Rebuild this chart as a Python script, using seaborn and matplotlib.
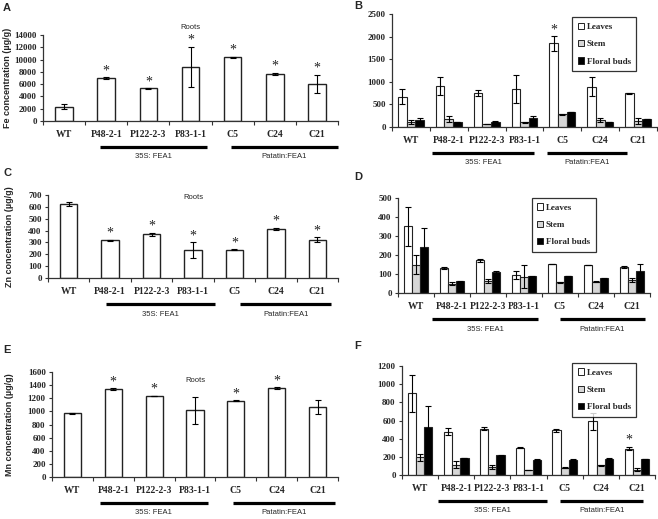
import numpy as np
import pandas as pd
import matplotlib
matplotlib.use('Agg')
import matplotlib.pyplot as plt
import matplotlib.transforms as mtransforms
from matplotlib.patches import Patch
import seaborn as sns

# plant lines and tissues
lines = ['WT', 'P48-2-1', 'P122-2-3', 'P83-1-1', 'C5', 'C24', 'C21']
tissues = ['Leaves', 'Stem', 'Floral buds']

# Fe roots (panel A)
fe_root = [2300, 7000, 5300, 8800, 10400, 7700, 6000]
fe_root_err = [400, 100, 40, 3300, 80, 150, 1500]
fe_root_sig = [0, 1, 1, 1, 1, 1, 1]

# Fe shoots (panel B)
fe_leaves = [670, 910, 750, 840, 1850, 890, 750]
fe_leaves_err = [160, 200, 60, 320, 160, 210, 10]
fe_stem = [110, 170, 70, 100, 280, 150, 130]
fe_stem_err = [50, 70, 5, 10, 5, 50, 70]
fe_buds = [150, 110, 120, 210, 330, 110, 180]
fe_buds_err = [50, 5, 5, 40, 5, 5, 5]
fe_leaves_sig = [0, 0, 0, 0, 1, 0, 0]

# Zn roots (panel C)
zn_root = [625, 318, 368, 237, 238, 415, 322]
zn_root_err = [15, 5, 15, 65, 5, 8, 20]
zn_root_sig = [0, 1, 1, 1, 1, 1, 1]

# Zn shoots (panel D)
zn_leaves = [352, 130, 173, 95, 153, 148, 137]
zn_leaves_err = [102, 6, 8, 22, 2, 2, 5]
zn_stem = [148, 50, 65, 85, 57, 60, 68]
zn_stem_err = [50, 8, 10, 60, 2, 4, 12]
zn_buds = [242, 62, 108, 87, 90, 78, 117]
zn_buds_err = [102, 2, 8, 2, 2, 2, 37]

# Mn roots (panel E)
mn_root = [970, 1340, 1235, 1015, 1165, 1355, 1070]
mn_root_err = [10, 10, 5, 200, 5, 15, 110]
mn_root_sig = [0, 1, 1, 0, 1, 1, 0]

# Mn shoots (panel F)
mn_leaves = [900, 475, 510, 300, 490, 590, 290]
mn_leaves_err = [205, 40, 20, 3, 20, 90, 20]
mn_stem = [195, 115, 85, 55, 80, 105, 60]
mn_stem_err = [40, 40, 20, 2, 3, 5, 15]
mn_buds = [530, 185, 215, 170, 170, 180, 175]
mn_buds_err = [225, 3, 3, 3, 3, 3, 3]
mn_leaves_sig = [0, 0, 0, 0, 0, 0, 1]

groups = ['35S: FEA1', 'Patatin:FEA1']
tissue_colors = ['white', '#d6d6d6', 'black']

SERIF = 'Liberation Serif'
SANS = 'Liberation Sans'

sns.set_style('ticks')
plt.rcParams['font.family'] = [SANS, 'DejaVu Sans']

fig = plt.figure(figsize=(6.58, 5.19), dpi=100)
W, H = 658, 519


def px_axes(left, top, right, bottom):
    return fig.add_axes([left / W, 1 - bottom / H, (right - left) / W, (bottom - top) / H])


def style_axis(ax, ymax, step, spans):
    ax.set_xlim(-0.5, 6.5)
    ax.set_ylim(0, ymax)
    ax.set_yticks(np.arange(0, ymax + 1, step))
    ax.set_xticks(range(len(lines)))
    ax.set_xticklabels(lines)
    ax.set_xticks(np.arange(-0.5, 7, 1), minor=True)
    ax.set_xlabel('')
    ax.set_ylabel('')
    for s in ['top', 'right']:
        ax.spines[s].set_visible(False)
    for s in ['left', 'bottom']:
        ax.spines[s].set_linewidth(0.9)
        ax.spines[s].set_color('#333333')
    ax.tick_params(axis='x', which='major', length=0, pad=6.5)
    ax.tick_params(axis='x', which='minor', length=3, width=0.8, color='#333333', direction='out')
    ax.tick_params(axis='y', length=2.5, width=0.8, color='#333333', direction='out', pad=2)
    for t in ax.get_xticklabels():
        t.set_fontfamily(SERIF)
        t.set_fontweight('bold')
        t.set_fontsize(7)
    for t in ax.get_yticklabels():
        t.set_fontfamily(SERIF)
        t.set_fontweight('bold')
        t.set_fontsize(6.5)
    # group underlines
    hpx = ax.get_position().height * H
    trans = mtransforms.blended_transform_factory(ax.transData, ax.transAxes)
    for (x0, x1), name in zip(spans, groups):
        ax.plot([x0, x1], [-26 / hpx, -26 / hpx], color='black', lw=2.3,
                transform=trans, clip_on=False, solid_capstyle='butt')
        ax.text((x0 + x1) / 2, -36 / hpx, name, transform=trans, ha='center',
                va='center', fontsize=5.5, family=SANS)


def add_errors(ax, xs, vals, errs):
    ax.errorbar(xs, vals, yerr=errs, fmt='none', ecolor='black', elinewidth=0.8,
                capsize=2.2, capthick=0.8, zorder=3)


def add_stars(ax, xs, vals, errs, sig):
    for x, v, e, s in zip(xs, vals, errs, sig):
        if s:
            ax.text(x, v + e, '*', ha='center', va='bottom', fontsize=10,
                    family=SERIF, color='#222222')


def roots_panel(box, vals, errs, sig, ymax, step, ylabel, spans, roots_y, lab_x):
    ax = px_axes(*box)
    df = pd.DataFrame({'line': lines, 'value': vals})
    sns.barplot(data=df, x='line', y='value', color='white', saturation=1,
                edgecolor='#222222', linewidth=1.0, width=0.42, errorbar=None, ax=ax)
    xs = [p.get_x() + p.get_width() / 2 for p in ax.containers[0]]
    add_errors(ax, xs, vals, errs)
    add_stars(ax, xs, vals, errs, sig)
    style_axis(ax, ymax, step, spans)
    ax.text(0.5, roots_y, 'Roots', transform=ax.transAxes, ha='center', va='center',
            fontsize=5.5, family=SANS)
    ax.text(lab_x / W, 1 - (box[1] + box[3]) / 2 / H, ylabel, transform=fig.transFigure,
            rotation=90, ha='center', va='center', fontsize=6.5, fontweight='bold', family=SANS)
    return ax


def tissue_panel(box, series, errors, sigs, ymax, step, spans, leg_anchor):
    ax = px_axes(*box)
    df = pd.DataFrame({
        'line': lines * 3,
        'tissue': np.repeat(tissues, len(lines)),
        'value': np.concatenate(series),
    })
    sns.barplot(data=df, x='line', y='value', hue='tissue', hue_order=tissues,
                palette=tissue_colors, saturation=1, edgecolor='#222222', linewidth=0.8,
                width=0.68, errorbar=None, legend=False, ax=ax)
    for cont, vals, errs, sig in zip(ax.containers, series, errors, sigs):
        xs = [p.get_x() + p.get_width() / 2 for p in cont]
        add_errors(ax, xs, vals, errs)
        add_stars(ax, xs, vals, errs, sig)
    style_axis(ax, ymax, step, spans)
    handles = [Patch(facecolor=c, edgecolor='#222222', linewidth=0.7) for c in tissue_colors]
    leg = ax.legend(handles, tissues, loc='upper left', bbox_to_anchor=leg_anchor,
                    prop={'family': SERIF, 'weight': 'bold', 'size': 6.5},
                    handlelength=0.7, handleheight=0.7, handletextpad=0.3,
                    labelspacing=1.0, borderpad=0.6, fancybox=False, frameon=True)
    leg.get_frame().set_edgecolor('black')
    leg.get_frame().set_linewidth(0.9)
    return ax


none = [0] * 7

roots_panel((43, 35, 338, 121), fe_root, fe_root_err, fe_root_sig, 14000, 2000,
            'Fe concentration (µg/g)', [(0.85, 3.4), (3.95, 6.5)], 1.09, 8)
tissue_panel((392, 14, 657, 127), [fe_leaves, fe_stem, fe_buds],
             [fe_leaves_err, fe_stem_err, fe_buds_err], [fe_leaves_sig, none, none],
             2500, 500, [(0.56, 3.25), (3.59, 5.7)], (0.664, 1.01))
roots_panel((48, 195, 338, 278), zn_root, zn_root_err, zn_root_sig, 700, 100,
            'Zn concentration (µg/g)', [(0.9, 3.53), (4.14, 6.34)], 0.97, 10)
tissue_panel((398, 198, 650, 293), [zn_leaves, zn_stem, zn_buds],
             [zn_leaves_err, zn_stem_err, zn_buds_err], [none, none, none],
             500, 100, [(0.44, 3.39), (4.0, 6.36)], (0.512, 1.05))
roots_panel((52, 372, 338, 477), mn_root, mn_root_err, mn_root_sig, 1600, 200,
            'Mn concentration (µg/g)', [(0.67, 3.31), (3.93, 6.42)], 0.92, 10)
tissue_panel((402, 366, 655, 475), [mn_leaves, mn_stem, mn_buds],
             [mn_leaves_err, mn_stem_err, mn_buds_err], [mn_leaves_sig, none, none],
             1200, 200, [(0.5, 3.52), (3.88, 6.17)], (0.656, 1.07))

# panel letters
for letter, x, y in [('A', 7, 8), ('B', 358, 6), ('C', 7, 173), ('D', 358, 177),
                     ('E', 7, 350), ('F', 358, 346)]:
    fig.text(x / W, 1 - y / H, letter, ha='center', va='center', fontsize=8,
             fontweight='bold', family=SANS)

fig.savefig('out.png', dpi=100)
